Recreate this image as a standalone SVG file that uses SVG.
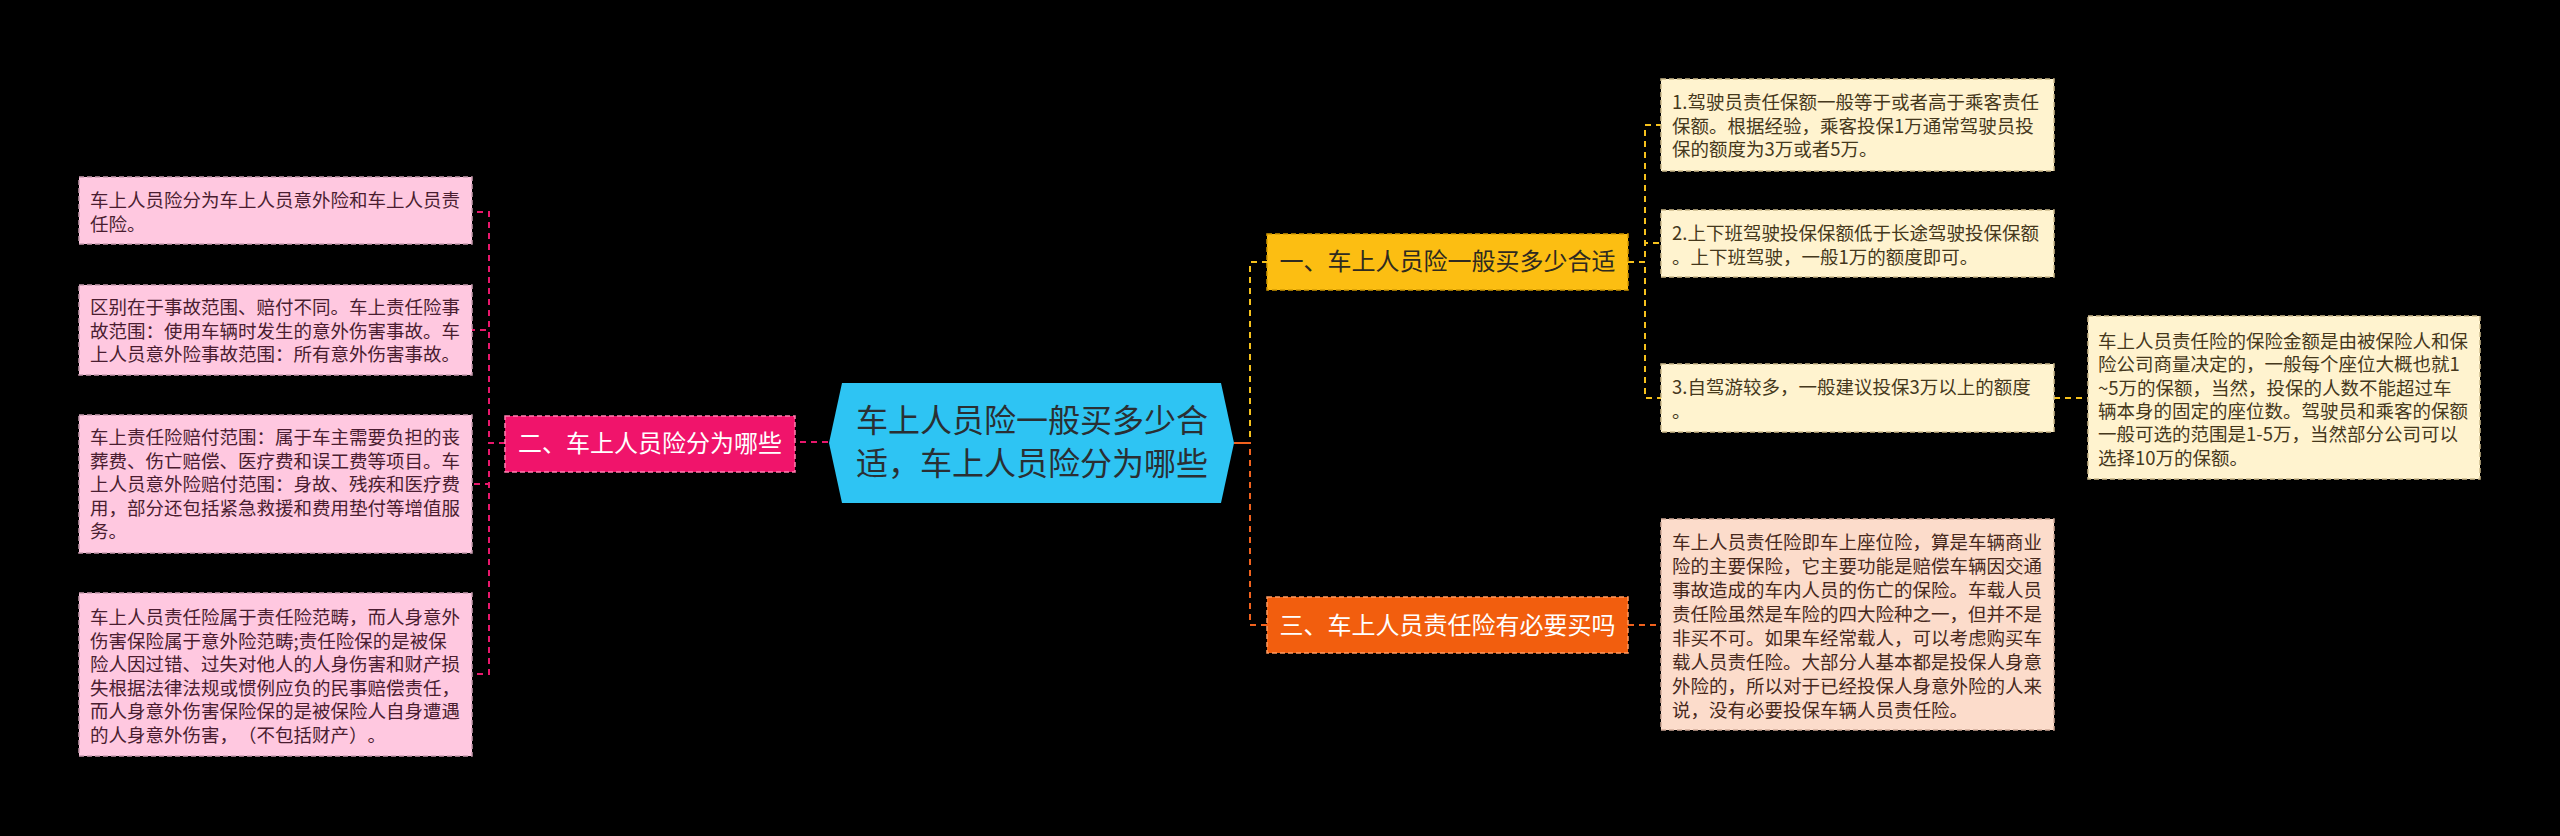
<svg xmlns="http://www.w3.org/2000/svg" width="2560" height="836" viewBox="0 0 2560 836">
<style>
text{font-family:"Noto Sans CJK SC","Noto Sans",sans-serif;text-spacing-trim:space-all;font-kerning:none}
.leaf{font-size:18.5px}
.pinkbox{fill:#FFC8E0;stroke:#c79aae;stroke-width:1.5;stroke-dasharray:5,3}
.pinktxt{fill:#4a1d30}
.creambox{fill:#FFF3CF;stroke:#cdbb8c;stroke-width:1.5;stroke-dasharray:5,3}
.creamtxt{fill:#45381c}
.peachbox{fill:#FCDCCB;stroke:#d0a998;stroke-width:1.5;stroke-dasharray:5,3}
.peachtxt{fill:#47291d}
.main{font-size:24px}
.c{fill:none;stroke-width:2;stroke-dasharray:6,5}
.cp{stroke:#E8176B}
.cy{stroke:#F6C11C}
.co{stroke:#F1621E}
</style>
<rect width="2560" height="836" fill="#000"/>
<g id="connectors">
<path class="c cp" d="M828,442 H795"/>
<path class="c cp" d="M505,443 H489 V212 H472"/>
<path class="c cp" d="M505,443 H489 V330 H472"/>
<path class="c cp" d="M505,443 H489 V484 H472"/>
<path class="c cp" d="M505,443 H489 V674 H472"/>
<path class="c cy" d="M1234,443 H1250 V262 H1267"/>
<path class="c cy" d="M1628,262 H1645 V125 H1661"/>
<path class="c cy" d="M1628,262 H1645 V243 H1661"/>
<path class="c cy" d="M1628,262 H1645 V398 H1661"/>
<path class="c cy" d="M2054,398 H2088"/>
<path class="c co" d="M1234,443 H1250 V625 H1267"/>
<path d="M1234,443 H1250" stroke="#F1621E" stroke-width="2" fill="none"/>
<path class="c co" d="M1628,625 H1661"/>
</g>
<g id="center">
<polygon points="829,443 842,383 1221,383 1234,443 1221,503 842,503" fill="#2EC4F3"/>
<text x="1032" y="432" font-size="32" fill="#2a2f33" text-anchor="middle">车上人员险一般买多少合</text>
<text x="1032" y="475" font-size="32" fill="#2a2f33" text-anchor="middle">适，车上人员险分为哪些</text>
</g>
<g id="branch2">
<rect x="505" y="416" width="290" height="56" fill="#F0146B" stroke="#ff7fb0" stroke-width="1.5" stroke-dasharray="5,3"/>
<text class="main" x="650" y="452" fill="#fff" text-anchor="middle">二、车上人员险分为哪些</text>
</g>
<g id="branch1">
<rect x="1267" y="234" width="361" height="56" fill="#FCBE12" stroke="#d49a00" stroke-width="1.5" stroke-dasharray="5,3"/>
<text class="main" x="1447.5" y="270" fill="#2e2a20" text-anchor="middle">一、车上人员险一般买多少合适</text>
</g>
<g id="branch3">
<rect x="1267" y="597" width="361" height="56" fill="#F25E0E" stroke="#ff9a60" stroke-width="1.5" stroke-dasharray="5,3"/>
<text class="main" x="1447.5" y="633.5" fill="#fff" text-anchor="middle">三、车上人员责任险有必要买吗</text>
</g>
<g id="left1">
<rect class="pinkbox" x="79" y="177" width="393" height="67"/>
<text class="leaf pinktxt" x="90" y="207"><tspan x="90">车上人员险分为车上人员意外险和车上人员责</tspan><tspan x="90" dy="23.5">任险。</tspan></text>
</g>
<g id="left2">
<rect class="pinkbox" x="79" y="285" width="393" height="90"/>
<text class="leaf pinktxt" x="90" y="314"><tspan x="90">区别在于事故范围、赔付不同。车上责任险事</tspan><tspan x="90" dy="23.5">故范围：使用车辆时发生的意外伤害事故。车</tspan><tspan x="90" dy="23.5">上人员意外险事故范围：所有意外伤害事故。</tspan></text>
</g>
<g id="left3">
<rect class="pinkbox" x="79" y="415" width="393" height="138"/>
<text class="leaf pinktxt" x="90" y="444"><tspan x="90">车上责任险赔付范围：属于车主需要负担的丧</tspan><tspan x="90" dy="23.5">葬费、伤亡赔偿、医疗费和误工费等项目。车</tspan><tspan x="90" dy="23.5">上人员意外险赔付范围：身故、残疾和医疗费</tspan><tspan x="90" dy="23.5">用，部分还包括紧急救援和费用垫付等增值服</tspan><tspan x="90" dy="23.5">务。</tspan></text>
</g>
<g id="left4">
<rect class="pinkbox" x="79" y="593" width="393" height="163"/>
<text class="leaf pinktxt" x="90" y="624"><tspan x="90">车上人员责任险属于责任险范畴，而人身意外</tspan><tspan x="90" dy="23.5">伤害保险属于意外险范畴;责任险保的是被保</tspan><tspan x="90" dy="23.5">险人因过错、过失对他人的人身伤害和财产损</tspan><tspan x="90" dy="23.5">失根据法律法规或惯例应负的民事赔偿责任，</tspan><tspan x="90" dy="23.5">而人身意外伤害保险保的是被保险人自身遭遇</tspan><tspan x="90" dy="23.5">的人身意外伤害，（不包括财产）。</tspan></text>
</g>
<g id="right1">
<rect class="creambox" x="1661" y="79" width="393" height="92"/>
<text class="leaf creamtxt" x="1672" y="109"><tspan x="1672">1.驾驶员责任保额一般等于或者高于乘客责任</tspan><tspan x="1672" dy="23.5">保额。根据经验，乘客投保1万通常驾驶员投</tspan><tspan x="1672" dy="23.5">保的额度为3万或者5万。</tspan></text>
</g>
<g id="right2">
<rect class="creambox" x="1661" y="210" width="393" height="67"/>
<text class="leaf creamtxt" x="1672" y="240"><tspan x="1672">2.上下班驾驶投保保额低于长途驾驶投保保额</tspan><tspan x="1672" dy="23.5">。上下班驾驶，一般1万的额度即可。</tspan></text>
</g>
<g id="right3">
<rect class="creambox" x="1661" y="364" width="393" height="68"/>
<text class="leaf creamtxt" x="1672" y="394"><tspan x="1672">3.自驾游较多，一般建议投保3万以上的额度</tspan><tspan x="1672" dy="23.5">。</tspan></text>
</g>
<g id="right3a">
<rect class="creambox" x="2088" y="316" width="392" height="163"/>
<text class="leaf creamtxt" x="2098" y="348"><tspan x="2098">车上人员责任险的保险金额是由被保险人和保</tspan><tspan x="2098" dy="23.3">险公司商量决定的，一般每个座位大概也就1</tspan><tspan x="2098" dy="23.3">~5万的保额，当然，投保的人数不能超过车</tspan><tspan x="2098" dy="23.3">辆本身的固定的座位数。驾驶员和乘客的保额</tspan><tspan x="2098" dy="23.3">一般可选的范围是1-5万，当然部分公司可以</tspan><tspan x="2098" dy="23.3">选择10万的保额。</tspan></text>
</g>
<g id="right4">
<rect class="peachbox" x="1661" y="519" width="393" height="211"/>
<text class="leaf peachtxt" x="1672" y="549"><tspan x="1672">车上人员责任险即车上座位险，算是车辆商业</tspan><tspan x="1672" dy="24">险的主要保险，它主要功能是赔偿车辆因交通</tspan><tspan x="1672" dy="24">事故造成的车内人员的伤亡的保险。车载人员</tspan><tspan x="1672" dy="24">责任险虽然是车险的四大险种之一，但并不是</tspan><tspan x="1672" dy="24">非买不可。如果车经常载人，可以考虑购买车</tspan><tspan x="1672" dy="24">载人员责任险。大部分人基本都是投保人身意</tspan><tspan x="1672" dy="24">外险的，所以对于已经投保人身意外险的人来</tspan><tspan x="1672" dy="24">说，没有必要投保车辆人员责任险。</tspan></text>
</g>
</svg>
